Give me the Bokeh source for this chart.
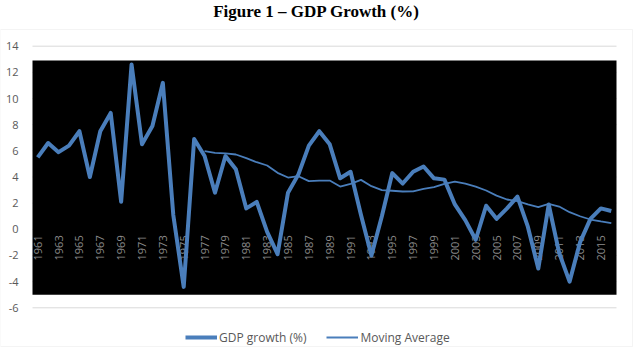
import math
from bokeh.plotting import figure
from bokeh.models import Range1d, BoxAnnotation, Legend, LegendItem, Label
from bokeh.core.properties import value
from bokeh.embed import file_html
from bokeh.resources import INLINE

years = list(range(1961, 2017))
gdp_growth = [5.5, 6.6, 5.9, 6.4, 7.5, 4.0, 7.5, 8.9, 2.1, 12.6,
              6.5, 7.9, 11.2, 1.1, -4.4, 6.9, 5.6, 2.8, 5.6, 4.6,
              1.6, 2.1, -0.2, -1.9, 2.8, 4.2, 6.4, 7.5, 6.5, 3.9,
              4.4, 1.1, -2.0, 1.0, 4.3, 3.5, 4.4, 4.8, 3.9, 3.8,
              1.9, 0.7, -0.8, 1.8, 0.8, 1.6, 2.5, 0.2, -3.0, 1.9,
              -1.8, -4.0, -1.0, 0.8, 1.6, 1.4]
ma_years = list(range(1977, 2017))
moving_average = [5.97, 5.85, 5.8, 5.72, 5.44, 5.13, 4.88, 4.32, 3.96, 4.06,
                  3.68, 3.73, 3.73, 3.27, 3.48, 3.78, 3.3, 2.99, 2.95, 2.89,
                  2.9, 3.1, 3.22, 3.48, 3.65, 3.5, 3.27, 2.97, 2.58, 2.28,
                  2.15, 1.9, 1.69, 1.95, 1.74, 1.31, 1.0, 0.75, 0.6, 0.47]
y_ticks = list(range(-6, 15, 2))
y_tick_labels = [str(t) for t in y_ticks]
x_tick_years = years[::2]
x_tick_labels = [str(y) for y in x_tick_years]
title_text = "Figure 1 \u2013 GDP Growth (%)"

BLUE = "#4a7ebb"
GRAY = "#595959"

W, H = 634, 353
PLOT_L, PLOT_R = 32, 616          # plot-area pixel edges
PLOT_T, PLOT_B = 45.7, 307.3      # pixel rows of the 14 and -6 gridlines

x0, x1 = years[0] - 0.5, years[-1] + 0.5
ppx = (PLOT_R - PLOT_L) / (x1 - x0)
ppy = (PLOT_B - PLOT_T) / (y_ticks[-1] - y_ticks[0])

p = figure(width=W, height=H, output_backend="svg", toolbar_location=None,
           x_range=Range1d(x0 - PLOT_L / ppx, x1 + (W - PLOT_R) / ppx),
           y_range=Range1d(y_ticks[0] - (H - PLOT_B) / ppy, y_ticks[-1] + PLOT_T / ppy),
           min_border=0)
p.outline_line_color = None
p.background_fill_color = "white"
p.border_fill_color = "white"
p.xaxis.visible = False
p.yaxis.visible = False
p.xgrid.visible = False
p.ygrid.visible = False

# chart-area border
p.add_layout(BoxAnnotation(left=x0 - PLOT_L / ppx, right=x1 + (W - 2 - PLOT_R) / ppx,
                           top=y_ticks[-1] + (PLOT_T - 29) / ppy,
                           bottom=y_ticks[0] - (346 - PLOT_B) / ppy,
                           fill_alpha=0, line_color="#d9d9d9", line_width=1,
                           level="underlay"))

# horizontal gridlines (beneath the black panel)
p.segment(x0=[x0] * len(y_ticks), x1=[x1] * len(y_ticks), y0=y_ticks, y1=y_ticks,
          line_color="#d9d9d9", line_width=1, level="image")

# black plot-area panel
p.add_layout(BoxAnnotation(left=x0, right=x1, top=12.9, bottom=-5.0,
                           fill_color="black", fill_alpha=1.0, line_color=None,
                           level="underlay"))

# y tick labels
p.text(x=[x0] * len(y_ticks), y=y_ticks, text=y_tick_labels, x_offset=-14,
       text_align="right", text_baseline="middle", text_color=GRAY,
       text_font=value("Open Sans"), text_font_size="11px")

# category labels hanging from the zero line
p.text(x=x_tick_years, y=[0] * len(x_tick_years), text=x_tick_labels,
       angle=math.pi / 2, text_align="right", text_baseline="middle",
       y_offset=6, text_color="#8c8c8c", text_font=value("Open Sans"),
       text_font_size="11px")

r1 = p.line(years, gdp_growth, line_width=4, line_color=BLUE, line_join="round")
r2 = p.line(ma_years, moving_average, line_width=1.8, line_color=BLUE, line_join="round")

# title
p.add_layout(Label(x=(x0 + x1) / 2, y=y_ticks[-1] + (PLOT_T - 11) / ppy, x_offset=-8,
                   text=title_text, text_align="center", text_baseline="middle",
                   text_font="Liberation Serif", text_font_style="bold",
                   text_font_size="17px", text_color="black"))

legend = Legend(items=[LegendItem(label="GDP growth (%)", renderers=[r1]),
                       LegendItem(label="Moving Average", renderers=[r2])],
                orientation="horizontal", location=(185, 6))
legend.label_text_font = "Open Sans"
legend.label_text_font_size = "12px"
legend.label_text_color = GRAY
legend.border_line_color = None
legend.background_fill_alpha = 0
legend.glyph_width = 32
legend.label_standoff = 2
legend.spacing = 20
legend.padding = 0
legend.margin = 0
p.add_layout(legend)

open("out.html", "w").write(file_html(p, INLINE))
